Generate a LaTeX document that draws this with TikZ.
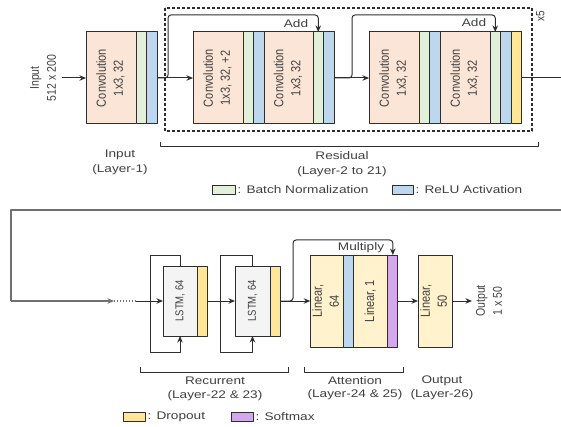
\documentclass[tikz,border=0pt]{standalone}
\usepackage{fontspec}
\setmainfont[FakeStretch=1.24]{Liberation Sans}
\newfontfamily\rotfont{Liberation Sans}
\usepackage{graphicx}
\usepackage{xcolor}
\usepackage{tikz}
\usetikzlibrary{arrows.meta}
\usetikzlibrary{positioning}

\definecolor{convc}{HTML}{FBE5D6}
\definecolor{bnc}{HTML}{E2F0D9}
\definecolor{reluc}{HTML}{BDD7EE}
\definecolor{dropc}{HTML}{FFE699}
\definecolor{linc}{HTML}{FFF2CC}
\definecolor{lstmc}{HTML}{F4F4F4}
\definecolor{softc}{HTML}{D4A9EC}
\definecolor{linec}{HTML}{2E2E2E}
\definecolor{wrapc}{HTML}{707070}
\definecolor{textc}{HTML}{404040}

\newcommand{\vtext}[2][11]{\scalebox{1.2}[1]{\rotatebox{90}{\rotfont\fontsize{#1}{14}\selectfont\begin{tabular}{@{}c@{}}#2\end{tabular}}}}

\tikzset{
    block/.style = {rectangle, draw=linec, line width=1pt, inner sep=0pt, outer sep=0pt, text=textc},
    convnode/.style = {block, fill=convc, minimum width=50pt, minimum height=92pt},
    bnnode/.style = {block, fill=bnc, minimum width=10.5pt, minimum height=92pt},
    relunode/.style = {block, fill=reluc, minimum width=10.5pt, minimum height=92pt},
    dropnode/.style = {block, fill=dropc, minimum width=10.5pt, minimum height=92pt},
    lstmnode/.style = {block, fill=lstmc, minimum width=34pt, minimum height=70pt},
    linnode/.style = {block, fill=linc, minimum width=34pt, minimum height=92pt},
    softnode/.style = {block, fill=softc, minimum width=10pt, minimum height=92pt},
    textnode/.style = {inner sep=1pt, text=textc, align=center, font=\fontsize{11}{15}\selectfont},
    keynode/.style = {rectangle, draw=linec, line width=1pt, minimum width=22pt, minimum height=9pt, inner sep=0pt},
}

\begin{document}
\begin{tikzpicture}[
	x=1pt, y=-1pt,
	line join=round
]
\tikzset{
    edgea/.style = {-{Stealth[length=6.5pt,width=5.5pt]}, draw=linec, line width=1pt},
    edgel/.style = {-, draw=linec, line width=1pt},
    edgew/.style = {-, draw=wrapc, line width=1.3pt},
    edged/.style = {-, draw=wrapc, line width=1.3pt, dash pattern=on 1pt off 2pt},
    dashbox/.style = {draw=linec, line width=1.2pt, dash pattern=on 3pt off 2pt},
}
\useasboundingbox (0,0) rectangle (561,427);
% input and first convolution
\node[textnode] at (44,78) (inp) {\vtext[10.5]{Input\\512 x 200}};
\node[convnode] at (111,78) (conv1) {\vtext{Convolution\\1x3, 32}};
\node[bnnode, right=0pt of conv1] (bn1) {};
\node[relunode, right=0pt of bn1] (re1) {};
%
% residual blocks
\draw[dashbox] (165,8) rectangle (532,131);
\node[textnode] at (541,16) (rep) {\vtext[10]{x5}};
\node[convnode] at (218,78) (conv2a) {\vtext{Convolution\\1x3, 32, +2}};
\node[bnnode, right=0pt of conv2a] (bn2a) {};
\node[relunode, right=0pt of bn2a] (re2a) {};
\node[convnode, minimum width=49pt, right=0pt of re2a] (conv2b) {\vtext{Convolution\\1x3, 32}};
\node[bnnode, right=0pt of conv2b] (bn2b) {};
\node[relunode, right=0pt of bn2b] (re2b) {};
%
\node[convnode] at (394,78) (conv3a) {\vtext{Convolution\\1x3, 32}};
\node[bnnode, right=0pt of conv3a] (bn3a) {};
\node[relunode, right=0pt of bn3a] (re3a) {};
\node[convnode, right=0pt of re3a] (conv3b) {\vtext{Convolution\\1x3, 32}};
\node[bnnode, right=0pt of conv3b] (bn3b) {};
\node[relunode, right=0pt of bn3b] (re3b) {};
\node[dropnode, right=0pt of re3b] (do3) {};
%
\coordinate (sk1) at (168,78);
\coordinate (add1) at (bn2b.north |- 0,15);
\coordinate (sk2) at (352,78);
\coordinate (add2) at (bn3b.north |- 0,15);
\draw[edgea] (inp) -- (conv1);
\draw[edgea] (re1) -- (conv2a);
\draw[edgea, rounded corners=3pt] (re1.east) -- (sk1) |- (add1) -- (bn2b.north);
\draw[edgea] (re2b) -- (conv3a);
\draw[edgea, rounded corners=3pt] (re2b.east) -- (sk2) |- (add2) -- (bn3b.north);
\node[textnode] at (296,24) (addl1) {Add};
\node[textnode] at (474,23) (addl2) {Add};
%
% wrap to second row
\coordinate (wr1) at (564,78);
\coordinate (wr2) at (564,210);
\coordinate (wr3) at (11,210);
\coordinate (wr4) at (11,301);
\coordinate (gap1) at (114,301);
\coordinate (gap2) at (136,301);
\draw[edgel] (do3.east) -- (wr1);
\draw[edgew] (wr1) -- (wr2) -- (wr3) -- (wr4);
\draw[edgew, -{Stealth[length=6.5pt,width=5.5pt]}] (wr4) -- (gap1);
\draw[edged] (gap1) -- (gap2);
%
% recurrent
\node[lstmnode] at (180,301) (lstm1) {\vtext[9.5]{LSTM, 64}};
\node[dropnode, minimum height=70pt, right=0pt of lstm1] (do4) {};
\node[lstmnode, minimum width=35pt] at (252.5,301) (lstm2) {\vtext[9.5]{LSTM, 64}};
\node[dropnode, minimum height=70pt, right=0pt of lstm2] (do5) {};
\coordinate (lp1a) at (150,255);
\coordinate (lp1b) at (150,352);
\coordinate (lp2a) at (220,255);
\coordinate (lp2b) at (220,352);
\draw[edgea] (gap2) -- (lstm1);
\draw[edgea] (lstm1.north) |- (lp1a) -- (lp1b) -| (lstm1.south);
\draw[edgea] (do4) -- (lstm2);
\draw[edgea] (lstm2.north) |- (lp2a) -- (lp2b) -| (lstm2.south);
%
% attention
\node[linnode, minimum width=32pt] at (327,301) (lin64) {\vtext{Linear,\\64}};
\node[relunode, minimum width=10pt, right=0pt of lin64] (re6) {};
\node[linnode, right=0pt of re6] (lin1) {\vtext{Linear, 1}};
\node[softnode, right=0pt of lin1] (soft) {};
\coordinate (sk3) at (293,301);
\coordinate (mul) at (soft.north |- 0,240);
\draw[edgea] (do5) -- (lin64);
\draw[edgea, rounded corners=3pt] (do5.east) -- (sk3) |- (mul) -- (soft.north);
\node[textnode] at (361,248) (mull) {Multiply};
%
% output
\node[linnode] at (435,301) (linout) {\vtext{Linear,\\50}};
\node[textnode] at (490,301) (outp) {\vtext[10.5]{Output\\1 x 50}};
\draw[edgea] (soft) -- (linout);
\draw[edgea] (linout) -- (outp);
%
% brackets and labels
\draw[edgel] (160,142) -- (160,147) -- (538,147) -- (538,142);
\draw[edgel] (140,367) -- (140,372) -- (288,372) -- (288,367);
\draw[edgel] (304,367) -- (304,372) -- (403,372) -- (403,367);
\node[textnode] at (120,162) (linp) {Input\\(Layer-1)};
\node[textnode] at (342,164) (lres) {Residual\\(Layer-2 to 21)};
\node[textnode, font=\fontsize{11}{13.5}\selectfont] at (215,389) (lrec) {Recurrent\\(Layer-22 \& 23)};
\node[textnode, font=\fontsize{11}{13.5}\selectfont] at (355,388) (latt) {Attention\\(Layer-24 \& 25)};
\node[textnode, font=\fontsize{11}{13.5}\selectfont] at (442,388) (lout) {Output\\(Layer-26)};
%
% legends
\node[keynode, fill=bnc, minimum width=23pt] at (223.5,190) (kbn) {};
\node[textnode, right=1pt of kbn] (tbn) {: Batch Normalization};
\node[keynode, fill=reluc, minimum width=21pt] at (402.5,190) (kre) {};
\node[textnode, right=1pt of kre] (tre) {: ReLU Activation};
\node[keynode, fill=dropc] at (134,417) (kdo) {};
\node[textnode, right=1pt of kdo] (tdo) {: Dropout};
\node[keynode, fill=softc] at (242,417) (kso) {};
\node[textnode, right=1pt of kso] (tso) {: Softmax};
\end{tikzpicture}
\end{document}
